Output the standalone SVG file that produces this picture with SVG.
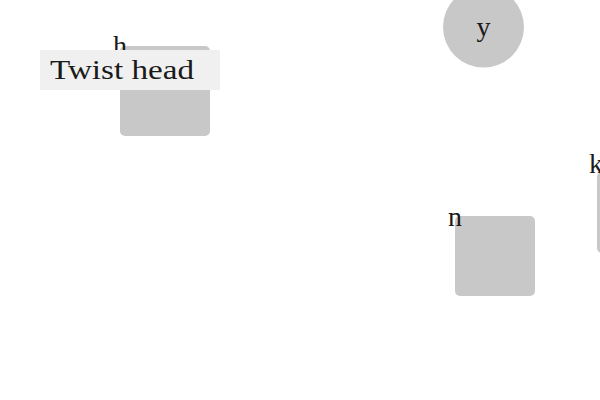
<svg xmlns="http://www.w3.org/2000/svg" width="600" height="400" viewBox="0 0 600 400">
<style>
.node{fill:#c8c8c8}
.lbl{font-family:"Liberation Serif","DejaVu Serif",serif;font-size:28px;fill:#1a1a1a}
.tag{fill:#f0f0f0}
</style>
<rect width="600" height="400" fill="#ffffff"/>
<g id="connectors"></g>
<g id="node-h">
<rect class="node" x="120" y="46" width="90" height="90" rx="5"/>
<text class="lbl" x="113" y="55">h</text>
</g>
<g id="node-y">
<circle class="node" cx="483.5" cy="27" r="40.5"/>
<text class="lbl" x="483.5" y="36" text-anchor="middle">y</text>
</g>
<g id="node-n">
<rect class="node" x="455" y="216" width="80" height="80" rx="5"/>
<text class="lbl" x="448" y="226">n</text>
</g>
<g id="node-k">
<rect class="node" x="597" y="172" width="80" height="81" rx="5"/>
<text class="lbl" x="589" y="173">k</text>
</g>
<g id="tag-twist">
<rect class="tag" x="40" y="50" width="180" height="40"/>
<text class="lbl" x="50" y="79" textLength="144" lengthAdjust="spacingAndGlyphs">Twist head</text>
</g>
</svg>
